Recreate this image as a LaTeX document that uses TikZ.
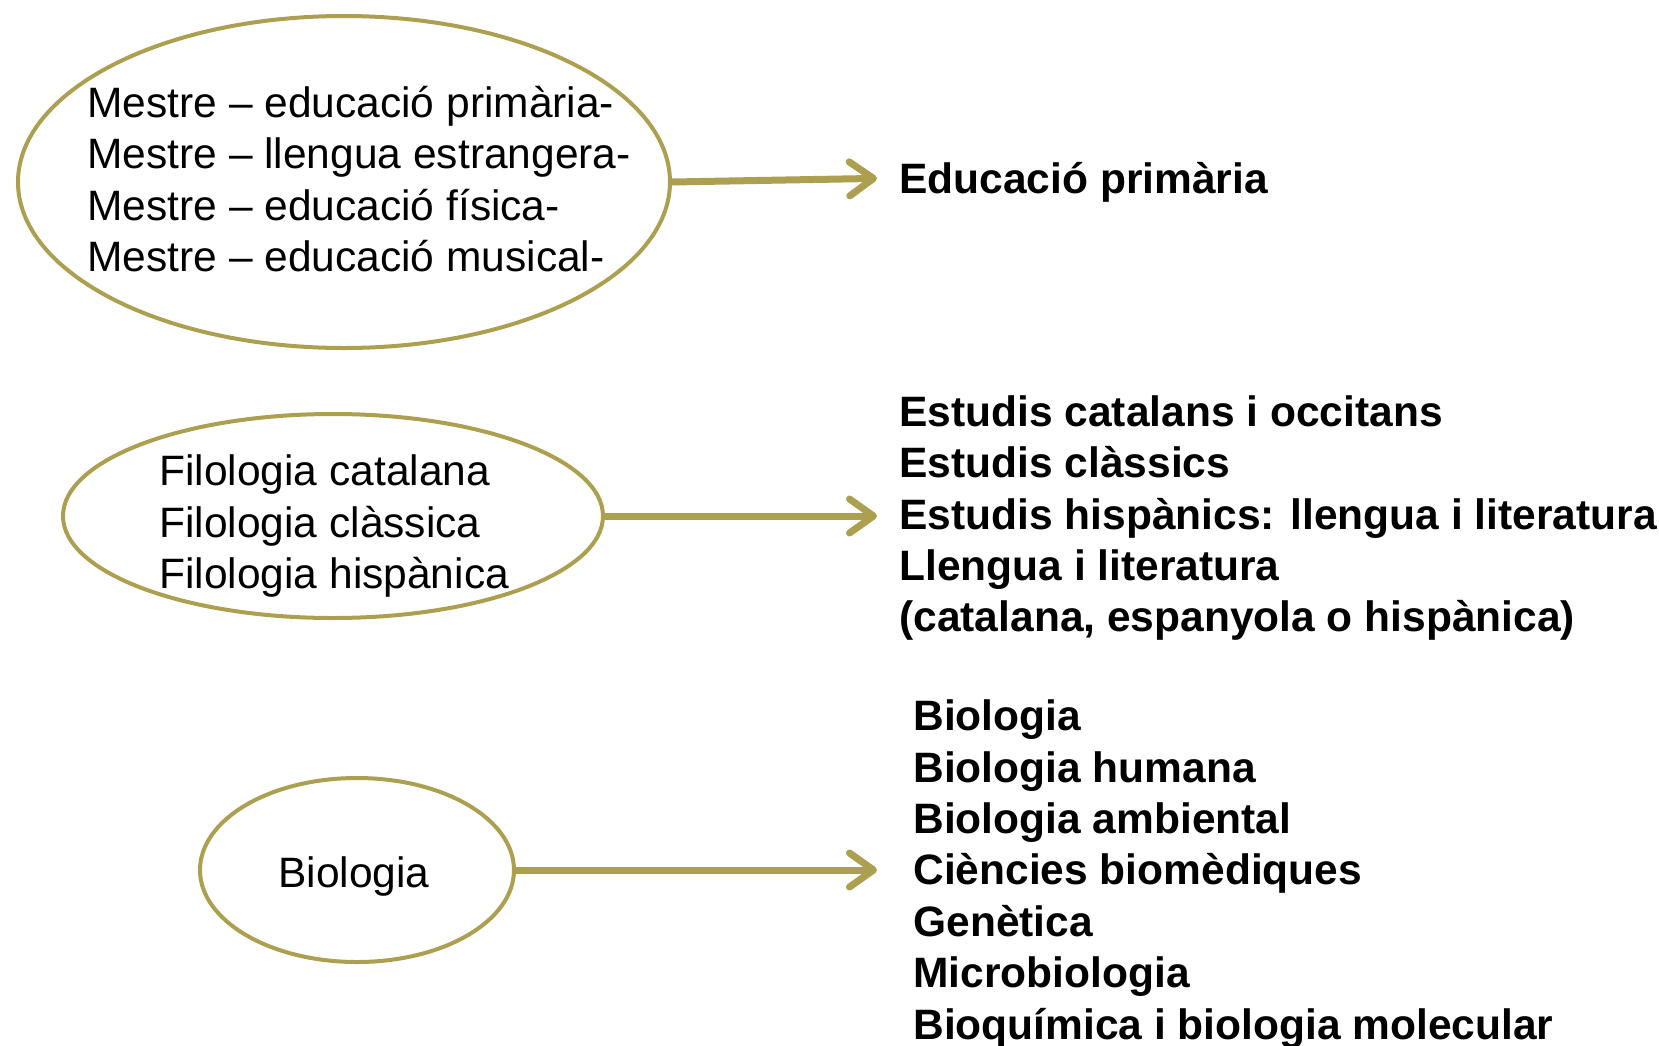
\documentclass[tikz,border=0pt]{standalone}
\usepackage{fontspec}
\setmainfont{Liberation Sans}
\usepackage{xcolor}
\usetikzlibrary{shapes.geometric,arrows.meta}
\definecolor{keyolive}{RGB}{172,159,80}

\begin{document}
\begin{tikzpicture}[x=0.5pt, y=-0.5pt,
  course/.style={ellipse, draw=keyolive, line width=2pt, inner sep=0pt},
  list/.style={anchor=west, inner sep=0pt, align=left, font=\fontsize{21.25}{25.7}\selectfont},
  degree/.style={list, font=\fontsize{21.25}{25.7}\selectfont\bfseries},
  link/.style={draw=keyolive, line width=3.5pt, -{Straight Barb[length=12pt,width=17pt,round]}, shorten >=11pt}]
  \useasboundingbox (0,0) rectangle (1659,1045);
  \node (mestre) [course, minimum width=326pt, minimum height=166pt] at (344,182) {};
  \node (filo) [course, minimum width=270pt, minimum height=102pt] at (333,516) {};
  \node (bio) [course, minimum width=157pt, minimum height=92pt] at (357,870) {};
  \node (mestreList) [list] at (87,179) {Mestre – educació primària-\\Mestre – llengua estrangera-\\Mestre – educació física-\\Mestre – educació musical-};
  \node (filoList) [list] at (159,526) {Filologia catalana\\Filologia clàssica\\Filologia hispànica};
  \node (bioText) [list] at (278,876) {Biologia};
  \node (eduGrau) [degree] at (899,182) {Educació primària};
  \node (estudisGrau) [degree] at (899,518) {Estudis catalans i occitans\\Estudis clàssics\\Estudis hispànics: llengua i literatura\\Llengua i literatura\\(catalana, espanyola o hispànica)};
  \node (bioGrau) [degree] at (913,874) {Biologia\\Biologia humana\\Biologia ambiental\\Ciències biomèdiques\\Genètica\\Microbiologia\\Bioquímica i biologia molecular};
  \draw[link] (mestre.east) -- ([yshift=2pt]eduGrau.west);
  \draw[link] (filo.east) -- (filo.east -| estudisGrau.west);
  \draw[link, shorten >=18pt] (bio.east) -- (bio.east -| bioGrau.west);
\end{tikzpicture}
\end{document}
